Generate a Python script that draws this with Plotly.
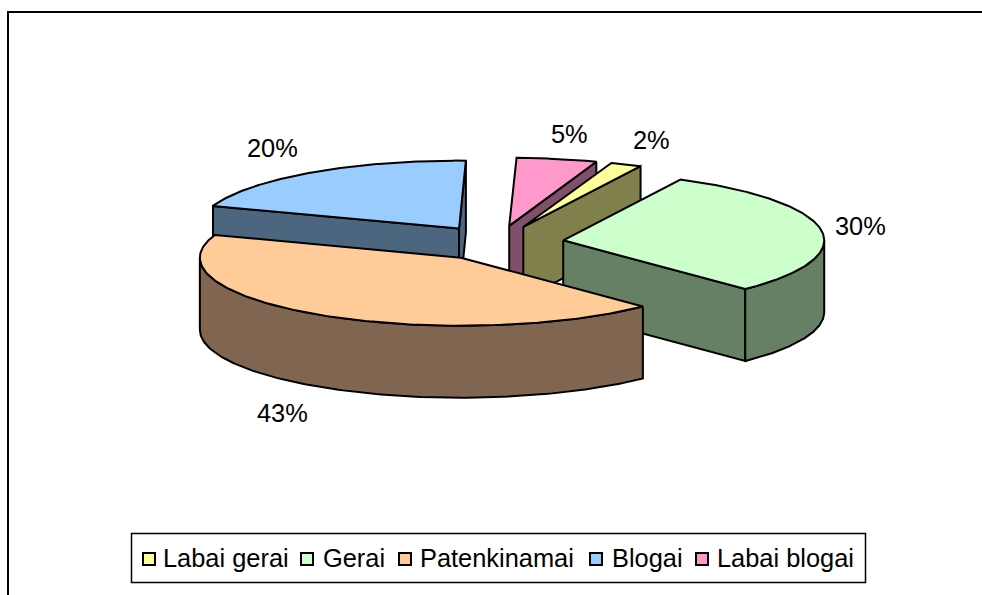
import numpy as np
import plotly.graph_objects as go

categories = ["Labai gerai", "Gerai", "Patenkinamai", "Blogai", "Labai blogai"]
percents = [2, 30.3, 42.7, 20, 5]
top_colors = ["#FFFF99", "#CCFFCC", "#FFCC99", "#99CCFF", "#FF99CC"]
wall_colors = ["#80804D", "#668066", "#806650", "#4D6680", "#80506A"]

# pie projection in page pixels
CX, CY = 497, 243
RX, RY = 261, 68
EXPLODE = 67
DEPTH = 72
START = 19.5
LINE = dict(color="black", width=2)

# where the percent labels sit, same order as categories
label_pos = [(651, 140), (860, 226), (282, 413), (272, 148), (569, 134)]
# legend swatch x and text x
legend_swatch_x = [149, 307, 405, 596, 702]
legend_text_x = [161, 321, 418, 610, 715]
LEGEND_Y = 558


def rim(ax, ay, a):
    a = np.radians(a)
    return ax + RX * np.sin(a), ay - RY * np.cos(a)


def add_poly(fig, x, y, color):
    fig.add_trace(go.Scatter(x=list(x), y=list(y), mode="lines", fill="toself",
                             fillcolor=color, line=LINE, hoverinfo="skip"))


def add_slice(fig, s, e, top, wall):
    mid = np.radians((s + e) / 2)
    ax = CX + EXPLODE * np.sin(mid)
    ay = CY - EXPLODE * (RY / RX) * np.cos(mid)

    # radial wall on the start side faces us only on the left half
    if np.sin(np.radians(s)) < 0:
        x, y = rim(ax, ay, s)
        add_poly(fig, [ax, x, x, ax, ax], [ay, y, y + DEPTH, ay + DEPTH, ay], wall)
    # same for the end side on the right half
    if np.sin(np.radians(e)) > 0:
        x, y = rim(ax, ay, e)
        add_poly(fig, [ax, x, x, ax, ax], [ay, y, y + DEPTH, ay + DEPTH, ay], wall)
    # outer wall, front part of the rim only
    lo, hi = max(s, 90), min(e, 270)
    if hi > lo:
        x, y = rim(ax, ay, np.linspace(lo, hi, 120))
        add_poly(fig, np.r_[x, x[::-1], x[0]], np.r_[y, y[::-1] + DEPTH, y[0]], wall)
    # top face
    x, y = rim(ax, ay, np.linspace(s, e, 160))
    add_poly(fig, np.r_[ax, x, ax], np.r_[ay, y, ay], top)


fig = go.Figure()

bounds = START + 3.6 * np.r_[0, np.cumsum(percents)]
# painter's order: back slices first, the big front one last
for i in [4, 0, 3, 1, 2]:
    add_slice(fig, bounds[i], bounds[i + 1], top_colors[i], wall_colors[i])

# legend swatches
fig.add_trace(go.Scatter(
    x=legend_swatch_x, y=[LEGEND_Y + 1] * len(categories), mode="markers",
    marker=dict(symbol="square", size=12, color=top_colors, line=dict(color="black", width=2)),
    hoverinfo="skip"))

fig.update_layout(
    width=982, height=595, autosize=False,
    margin=dict(l=0, r=0, t=0, b=0),
    paper_bgcolor="white", plot_bgcolor="white", showlegend=False,
    font=dict(family="Liberation Sans", size=25.4, color="black"),
    xaxis=dict(range=[0, 982], visible=False, fixedrange=True),
    yaxis=dict(range=[595, 0], visible=False, fixedrange=True),
)

for p, (x, y) in zip(percents, label_pos):
    fig.add_annotation(x=x, y=y, text=f"{round(p)}%", showarrow=False, xanchor="center", yanchor="middle")

for name, x in zip(categories, legend_text_x):
    fig.add_annotation(x=x, y=LEGEND_Y, text=name, showarrow=False, xanchor="left", yanchor="middle")

# chart frame, only top and left show in the picture
fig.add_shape(type="path", path="M 8 596 L 8 12 L 983 12",
              line=dict(color="black", width=2), layer="below")
# legend box
fig.add_shape(type="rect", x0=131.5, y0=533.5, x1=865.5, y1=582.5,
              line=dict(color="black", width=1.5), fillcolor="white", layer="below")

# the browser's default body margin would push everything 8px down and right
fig.write_html("out.html", config={"displayModeBar": False},
               post_script="document.body.style.margin = '0';")
